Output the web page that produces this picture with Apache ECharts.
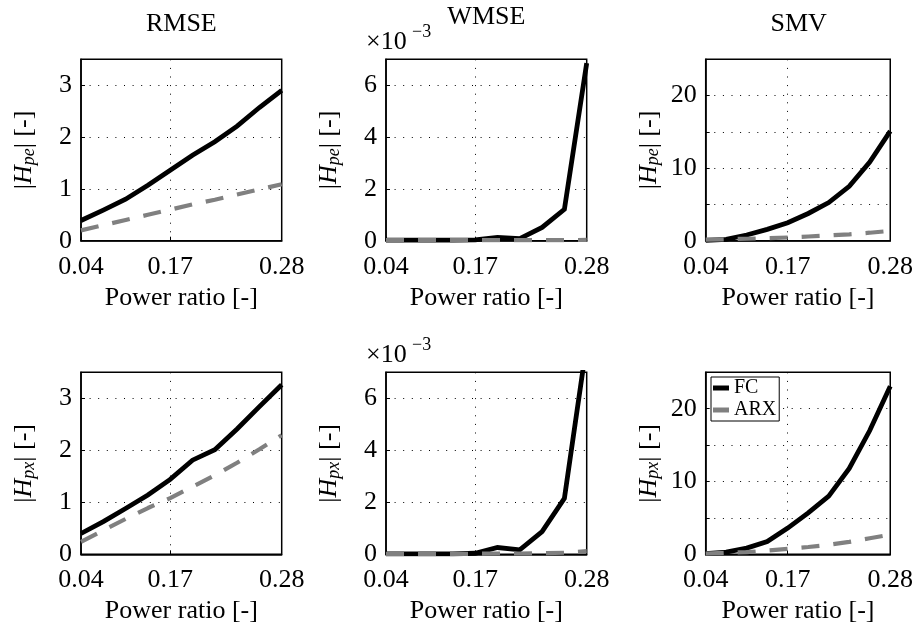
<!DOCTYPE html>
<html>
<head>
<meta charset="utf-8">
<script src="https://cdn.jsdelivr.net/npm/echarts@6/dist/echarts.min.js"></script>
<style>
html,body{margin:0;padding:0;background:#fff;}
#chart{width:916px;height:629px;}
</style>
</head>
<body>
<div id="chart"></div>
<script>
// ---------- data ----------
const powerRatioLabels = ['0.04', '', '', '', '0.17', '', '', '', '', '0.28'];
const seriesNames = ['FC', 'ARX'];
const panelTitles = ['RMSE', 'WMSE', 'SMV'];

const rmsePeFC  = [0.39, 0.59, 0.80, 1.07, 1.36, 1.65, 1.91, 2.21, 2.57, 2.90];
const rmsePeARX = [0.20, 0.30, 0.40, 0.50, 0.60, 0.70, 0.79, 0.89, 0.99, 1.09];
const rmsePxFC  = [0.40, 0.63, 0.88, 1.14, 1.44, 1.81, 2.01, 2.41, 2.84, 3.26];
const rmsePxARX = [0.24, 0.46, 0.68, 0.89, 1.08, 1.30, 1.52, 1.76, 2.02, 2.29];

const wmsePeFC  = [0.00002, 0.00002, 0.00002, 0.00002, 0.00003, 0.00013, 0.00008, 0.00051, 0.00121, 0.00685];
const wmsePeARX = [0.00002, 0.00002, 0.00002, 0.00002, 0.00002, 0.00002, 0.00002, 0.00002, 0.00002, 0.00003];
const wmsePxFC  = [0.00002, 0.00002, 0.00002, 0.00002, 0.00004, 0.00026, 0.00017, 0.00087, 0.00215, 0.00810];
const wmsePxARX = [0.00002, 0.00002, 0.00002, 0.00002, 0.00002, 0.00003, 0.00003, 0.00004, 0.00006, 0.00012];

const smvPeFC  = [0.05, 0.18, 0.78, 1.56, 2.47, 3.75, 5.26, 7.50, 10.85, 15.10];
const smvPeARX = [0.15, 0.20, 0.27, 0.35, 0.44, 0.58, 0.72, 0.88, 1.10, 1.35];
const smvPxFC  = [0.10, 0.30, 0.85, 1.75, 3.60, 5.70, 8.00, 11.80, 17.00, 23.10];
const smvPxARX = [0.10, 0.20, 0.30, 0.50, 0.75, 1.00, 1.30, 1.70, 2.20, 2.70];

const yTickMax = [3.5, 0.007, 25];
const yTickStep = [1, 0.002, 5];
const yLabelStep = [1, 0.002, 10];

// ---------- layout ----------
const FONT = "'Liberation Serif', 'Times New Roman', serif";
const colLeft = [81, 386, 705.7];
const colWidth = [200.7, 200.7, 186];
const rowTop = [59.3, 372.3];
const rowHeight = [181.4, 182];
const titleY = [24, 17, 24];

const panelData = [
  [[rmsePeFC, rmsePeARX], [wmsePeFC, wmsePeARX], [smvPeFC, smvPeARX]],
  [[rmsePxFC, rmsePxARX], [wmsePxFC, wmsePxARX], [smvPxFC, smvPxARX]]
];
const ySub = ['pe', 'px'];

const grids = [], xAxes = [], yAxes = [], series = [];
let k = 0;
for (let r = 0; r < 2; r++) {
  for (let c = 0; c < 3; c++) {
    grids.push({
      left: colLeft[c], top: rowTop[r], width: colWidth[c], height: rowHeight[r],
      show: true, borderColor: '#000', borderWidth: 1.5, backgroundColor: '#fff', containLabel: false
    });
    const showIdx = (i) => powerRatioLabels[i] !== '';
    xAxes.push({
      type: 'category', gridIndex: k, data: powerRatioLabels, boundaryGap: false,
      axisLine: { show: true, lineStyle: { color: '#000', width: 1.5 } },
      axisTick: { show: true, inside: true, length: 4, interval: (i) => showIdx(i), lineStyle: { color: '#000' } },
      axisLabel: { interval: (i) => showIdx(i), margin: 13, color: '#000', fontFamily: FONT, fontSize: 26 },
      splitLine: { show: true, interval: (i) => i === 4, lineStyle: { color: '#000', width: 1, type: [1, 7.6] } },
      name: 'Power ratio [-]', nameLocation: 'middle', nameGap: 44,
      nameTextStyle: { color: '#000', fontFamily: FONT, fontSize: 26 }
    });
    const step = yLabelStep[c];
    yAxes.push({
      type: 'value', gridIndex: k, min: 0, max: yTickMax[c], interval: yTickStep[c],
      axisLine: { show: true, lineStyle: { color: '#000', width: 1.5 } },
      axisTick: { show: true, inside: true, length: 4, lineStyle: { color: '#000' } },
      axisLabel: {
        margin: 9, color: '#000', fontFamily: FONT, fontSize: 26, showMaxLabel: false,
        formatter: (v) => {
          const q = v / step;
          if (Math.abs(q - Math.round(q)) > 1e-6) return '';
          return c === 1 ? String(Math.round(v * 1000)) : String(Math.round(v * 100) / 100);
        }
      },
      splitLine: { show: true, lineStyle: { color: '#000', width: 1, type: [1, 7.6] } },
      name: '{b||}{h|H}{s|' + ySub[r] + '}{b|| [-]}',
      nameLocation: 'middle', nameRotate: 90, nameGap: 43,
      nameTextStyle: {
        color: '#000', fontFamily: FONT, fontSize: 26,
        rich: {
          b: { fontFamily: FONT, fontSize: 26, color: '#000', lineHeight: 28 },
          h: { fontFamily: FONT, fontSize: 26, fontStyle: 'italic', color: '#000', lineHeight: 28 },
          s: { fontFamily: FONT, fontSize: 18, fontStyle: 'italic', color: '#000', verticalAlign: 'bottom', lineHeight: 18 }
        }
      }
    });
    const [fc, arx] = panelData[r][c];
    series.push({
      name: seriesNames[0], type: 'line', xAxisIndex: k, yAxisIndex: k, data: fc,
      symbol: 'none', color: '#000', clip: true,
      lineStyle: { color: '#000', width: 4.8, cap: 'butt', join: 'miter' }, z: 3
    });
    series.push({
      name: seriesNames[1], type: 'line', xAxisIndex: k, yAxisIndex: k, data: arx,
      symbol: 'none', color: '#808080', clip: true,
      lineStyle: { color: '#808080', width: 4.2, type: [18, 14], cap: 'butt' }, z: 4
    });
    k++;
  }
}

const graphics = [];
panelTitles.forEach((t, c) => {
  graphics.push({
    type: 'text', x: colLeft[c] + colWidth[c] / 2, y: titleY[c],
    style: { text: t, fontFamily: FONT, fontSize: 26, fill: '#000', textAlign: 'center', textVerticalAlign: 'middle' }
  });
});
[0, 313].forEach((dy) => {
  graphics.push({
    type: 'text', x: 366, y: 42.5 + dy,
    style: { text: '×10', fontFamily: FONT, fontSize: 26, fill: '#000', textAlign: 'left', textVerticalAlign: 'middle' }
  });
  graphics.push({
    type: 'text', x: 412, y: 32.5 + dy,
    style: { text: '−3', fontFamily: FONT, fontSize: 18, fill: '#000', textAlign: 'left', textVerticalAlign: 'middle' }
  });
});

const chart = echarts.init(document.getElementById('chart'), null, { renderer: 'canvas' });
chart.setOption({
  animation: false,
  backgroundColor: '#fff',
  grid: grids,
  xAxis: xAxes,
  yAxis: yAxes,
  series: series,
  legend: {
    data: seriesNames,
    orient: 'vertical', left: 711, top: 377,
    backgroundColor: '#fff', borderColor: '#000', borderWidth: 1,
    padding: [1, 3, 1, 2], itemGap: 2, itemWidth: 16, itemHeight: 5, itemTextGap: 2,
    icon: 'rect',
    itemStyle: { borderWidth: 0, borderType: 'solid', opacity: 1 },
    textStyle: { fontFamily: FONT, fontSize: 20, color: '#000', lineHeight: 19 }
  },
  graphic: graphics
});
</script>
</body>
</html>
